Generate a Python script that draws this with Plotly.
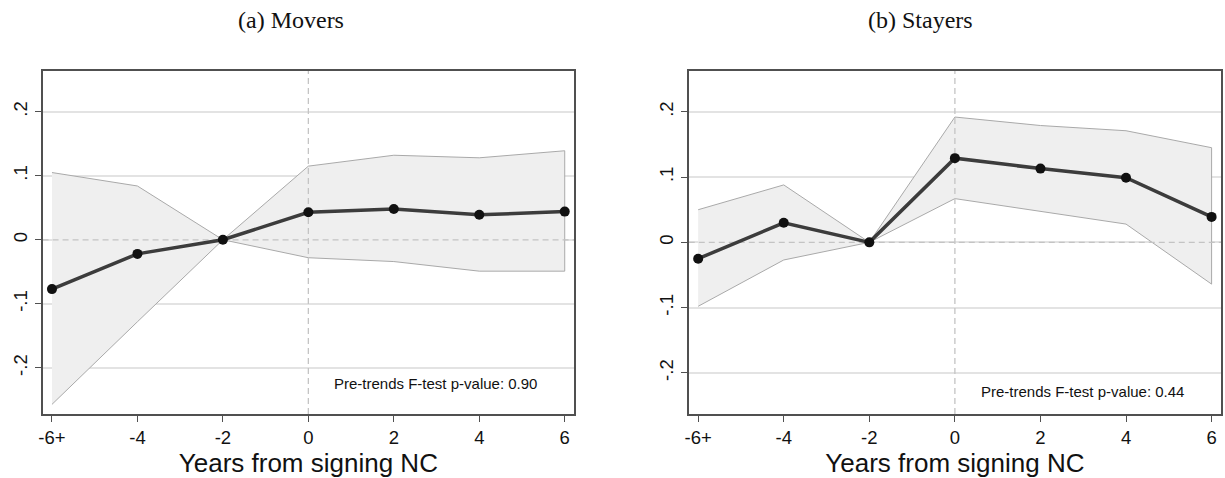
import plotly.graph_objects as go

# Event-study estimates with 95% confidence bands
years = [-6, -4, -2, 0, 2, 4, 6]
year_labels = ["-6+", "-4", "-2", "0", "2", "4", "6"]

movers_coef = [-0.077, -0.022, 0.0, 0.043, 0.048, 0.039, 0.044]
movers_hi = [0.105, 0.084, 0.0, 0.115, 0.132, 0.128, 0.139]
movers_lo = [-0.257, -0.128, 0.0, -0.028, -0.034, -0.049, -0.049]

stayers_coef = [-0.025, 0.030, 0.0, 0.129, 0.113, 0.099, 0.039]
stayers_hi = [0.050, 0.088, 0.0, 0.192, 0.179, 0.171, 0.145]
stayers_lo = [-0.098, -0.027, 0.0, 0.067, 0.047, 0.028, -0.064]

y_ticks = [-0.2, -0.1, 0.0, 0.1, 0.2]
y_tick_labels = ["-.2", "-.1", "0", ".1", ".2"]

panel_titles = ["(a) Movers", "(b) Stayers"]
pvalue_notes = ["Pre-trends F-test p-value: 0.90", "Pre-trends F-test p-value: 0.44"]
x_title = "Years from signing NC"

x_range = [-6.22, 6.22]
y_ranges = [[-0.272, 0.264], [-0.263, 0.263]]

W, H = 1225, 478
x_domains = [[38.7 / W, 572 / W], [687 / W, 1221 / W]]
y_domain = [1 - 414 / H, 1 - 70.7 / H]

SANS = "Liberation Sans, Arial, sans-serif"
SERIF = "Liberation Serif, Times New Roman, serif"

fig = go.Figure()

panels = [
    (movers_coef, movers_hi, movers_lo),
    (stayers_coef, stayers_hi, stayers_lo),
]

for i, (coef, hi, lo) in enumerate(panels):
    xa = "x" if i == 0 else "x2"
    ya = "y" if i == 0 else "y2"
    yr = y_ranges[i]

    # confidence band as a closed polygon
    fig.add_trace(go.Scatter(
        x=years + years[::-1], y=hi + lo[::-1],
        mode="lines", fill="toself", fillcolor="#efefef",
        line=dict(color="#a9a9a9", width=1),
        xaxis=xa, yaxis=ya, hoverinfo="skip", showlegend=False,
    ))
    # dashed reference lines at zero
    fig.add_trace(go.Scatter(
        x=x_range, y=[0, 0], mode="lines",
        line=dict(color="#c4c4c4", width=1.3, dash="6px,4px"),
        xaxis=xa, yaxis=ya, hoverinfo="skip", showlegend=False,
    ))
    fig.add_trace(go.Scatter(
        x=[0, 0], y=yr, mode="lines",
        line=dict(color="#c4c4c4", width=1.3, dash="6px,4px"),
        xaxis=xa, yaxis=ya, hoverinfo="skip", showlegend=False,
    ))
    # point estimates
    fig.add_trace(go.Scatter(
        x=years, y=coef, mode="lines+markers",
        line=dict(color="#3c3c3c", width=3.5),
        marker=dict(color="#111111", size=10),
        xaxis=xa, yaxis=ya, showlegend=False,
    ))

axis_common = dict(
    showline=True, linecolor="#505050", linewidth=2, mirror=True,
    ticks="outside", ticklen=6, tickwidth=1.3, tickcolor="#505050",
    zeroline=False,
)

for i in range(2):
    sfx = "" if i == 0 else "2"
    fig.layout["xaxis" + sfx] = dict(
        axis_common,
        domain=x_domains[i], range=x_range, anchor="y" + sfx,
        tickvals=years, ticktext=year_labels,
        tickfont=dict(family=SANS, size=18.5, color="#111"),
        showgrid=False,
        title=dict(text=x_title, font=dict(family=SANS, size=26, color="#111"), standoff=0),
    )
    fig.layout["yaxis" + sfx] = dict(
        axis_common,
        domain=y_domain, range=y_ranges[i], anchor="x" + sfx,
        tickvals=y_ticks, ticktext=y_tick_labels, tickangle=-90,
        tickfont=dict(family=SANS, size=18.5, color="#111"),
        showgrid=True, gridcolor="#e3e3e3", gridwidth=1.5,
    )

annotations = []
title_centers = [288 / W, 920 / W]
for i in range(2):
    sfx = "" if i == 0 else "2"
    annotations.append(dict(
        text=panel_titles[i], xref="paper", yref="paper",
        x=title_centers[i], y=1 - 20 / H, xanchor="center", yanchor="middle",
        showarrow=False, font=dict(family=SERIF, size=24, color="#111"),
    ))
    annotations.append(dict(
        text=pvalue_notes[i], xref="x" + sfx, yref="y" + sfx,
        x=5.4, y=-0.225 if i == 0 else -0.228, xanchor="right", yanchor="middle",
        showarrow=False, font=dict(family=SANS, size=15, color="#111"),
    ))

fig.update_layout(
    width=W, height=H,
    margin=dict(l=0, r=0, t=0, b=0),
    paper_bgcolor="white", plot_bgcolor="white",
    annotations=annotations,
)

fig.write_html("out.html")
